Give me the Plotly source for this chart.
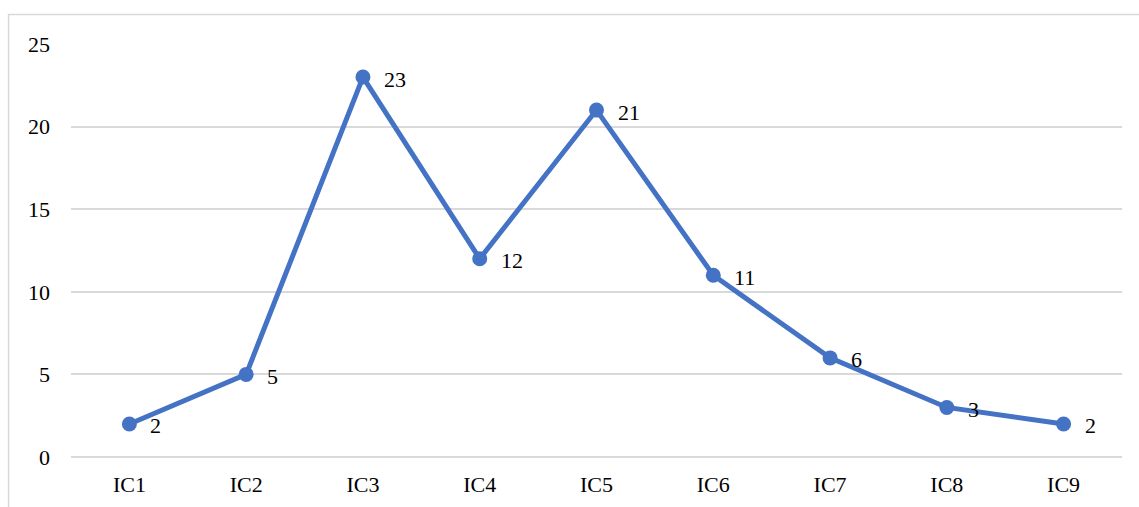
import plotly.graph_objects as go

categories = ["IC1", "IC2", "IC3", "IC4", "IC5", "IC6", "IC7", "IC8", "IC9"]
counts = [2, 5, 23, 12, 21, 11, 6, 3, 2]
y_ticks = [0, 5, 10, 15, 20, 25]

line_color = "#4472C4"
grid_color = "#D9D9D9"
font_family = "Liberation Serif, Times New Roman, serif"

fig = go.Figure()
fig.add_trace(go.Scatter(
    x=categories,
    y=counts,
    mode="lines+markers",
    line=dict(color=line_color, width=5),
    marker=dict(color=line_color, size=15),
    hoverinfo="skip",
    showlegend=False,
))

# value labels to the right of each point
for cat, val in zip(categories, counts):
    fig.add_annotation(
        x=cat, y=val, text=str(val),
        xanchor="left", yanchor="middle",
        xshift=19, yshift=-2,
        showarrow=False,
        font=dict(family=font_family, size=22, color="#000000"),
    )

# light outer frame around the chart
fig.add_shape(
    type="rect", xref="paper", yref="paper",
    x0=-0.0594, x1=1.2, y0=-0.3, y1=1.0714,
    line=dict(color="#D9D9D9", width=1.5),
    fillcolor="rgba(0,0,0,0)",
    layer="below",
)

fig.update_layout(
    width=1139, height=507,
    margin=dict(l=71, r=16.5, t=44, b=50),
    paper_bgcolor="white",
    plot_bgcolor="white",
    font=dict(family=font_family, size=22, color="#000000"),
    xaxis=dict(
        type="category",
        range=[-0.5, 8.5],
        showgrid=False,
        showline=False,
        zeroline=False,
        ticks="",
        ticklabelstandoff=12,
        automargin=False,
        fixedrange=True,
    ),
    yaxis=dict(
        range=[0, 25],
        tickvals=y_ticks,
        showgrid=True,
        gridcolor=grid_color,
        gridwidth=1.5,
        zeroline=True,
        zerolinecolor=grid_color,
        zerolinewidth=1.5,
        showline=False,
        ticks="",
        ticklabelstandoff=20,
        automargin=False,
        fixedrange=True,
    ),
)

fig.write_html("out.html")
